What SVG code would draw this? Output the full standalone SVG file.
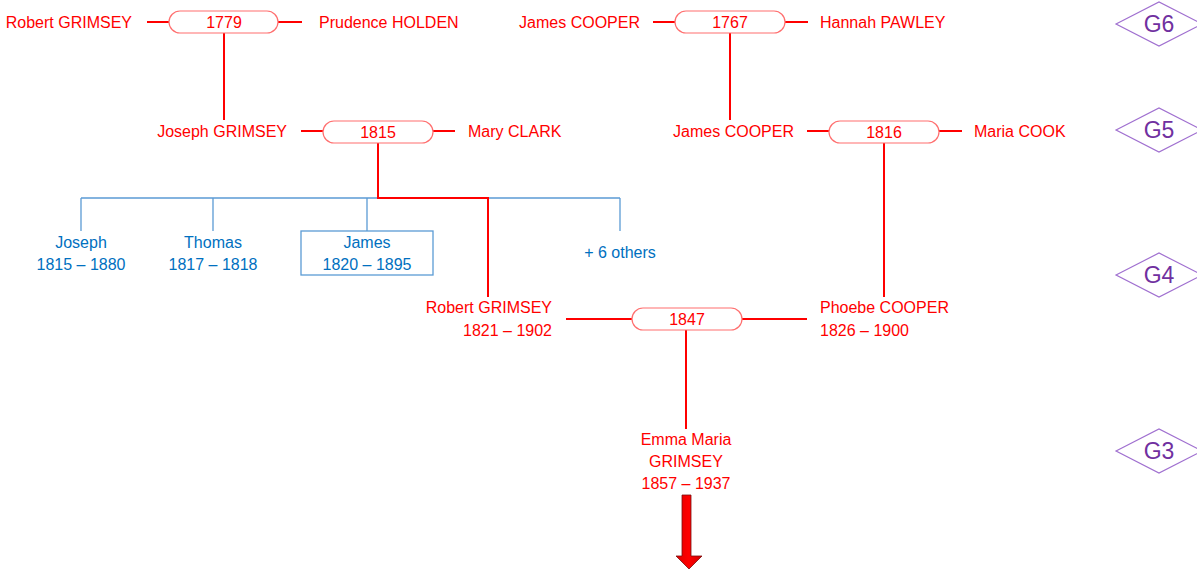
<svg xmlns="http://www.w3.org/2000/svg" width="1197" height="570" viewBox="0 0 1197 570">
<defs>
<style>
text{font-family:"Liberation Sans",Arial,sans-serif;font-size:16px}
.r{fill:#FF0000}
.b{fill:#0070C0}
.g{fill:#7030A0;font-size:23px;text-anchor:middle}
.e{text-anchor:end}
.m{text-anchor:middle}
.pill{fill:#fff;stroke:#FF6F6F;stroke-width:1.2}
.rl{stroke:#FF0000;stroke-width:2;fill:none}
.bl{stroke:#5B9BD5;stroke-width:1.3;fill:none}
.dia{fill:#fff;stroke:#A070D0;stroke-width:1.2}
</style>
<linearGradient id="ag" x1="0" x2="1" y1="0" y2="0">
<stop offset="0" stop-color="#E00000"/>
<stop offset="0.5" stop-color="#FF0000"/>
<stop offset="1" stop-color="#D00000"/>
</linearGradient>
</defs>
<rect width="1197" height="570" fill="#fff"/>
<g id="connectors">
<path class="rl" d="M147 22H169M278 22H302M224 33V120"/>
<path class="rl" d="M653 22H675M785 22H808M730 33V120"/>
<path class="rl" d="M301 131H323M433 131H455"/>
<path class="rl" d="M807 131H829M939 131H962M884 143V297"/>
<path class="bl" d="M81 198H620M81 198V231M213 198V231M367 198V231M620 198V231"/>
<path class="rl" d="M378 143V198H488V297"/>
<path class="rl" d="M566 319H632M742 319H807M686 330V429"/>
</g>
<g id="m1779"><rect class="pill" x="169" y="11" width="109" height="22" rx="11"/><text class="r m" x="224" y="28">1779</text></g>
<g id="m1767"><rect class="pill" x="675" y="11" width="110" height="22" rx="11"/><text class="r m" x="730" y="28">1767</text></g>
<g id="m1815"><rect class="pill" x="323" y="121" width="110" height="22" rx="11"/><text class="r m" x="378" y="138">1815</text></g>
<g id="m1816"><rect class="pill" x="829" y="121" width="110" height="22" rx="11"/><text class="r m" x="884" y="138">1816</text></g>
<g id="m1847"><rect class="pill" x="632" y="308" width="110" height="22" rx="11"/><text class="r m" x="687" y="325">1847</text></g>
<g id="robertG6"><text class="r e" x="132" y="28">Robert GRIMSEY</text></g>
<g id="prudence"><text class="r" x="319" y="28">Prudence HOLDEN</text></g>
<g id="jamesG6"><text class="r e" x="640" y="28">James COOPER</text></g>
<g id="hannah"><text class="r" x="820" y="28">Hannah PAWLEY</text></g>
<g id="josephG5"><text class="r e" x="287" y="137">Joseph GRIMSEY</text></g>
<g id="mary"><text class="r" x="468" y="137">Mary CLARK</text></g>
<g id="jamesG5"><text class="r e" x="794" y="137">James COOPER</text></g>
<g id="maria"><text class="r" x="974" y="137">Maria COOK</text></g>
<g id="joseph"><text class="b m" x="81" y="248">Joseph</text><text class="b m" x="81" y="270">1815 – 1880</text></g>
<g id="thomas"><text class="b m" x="213" y="248">Thomas</text><text class="b m" x="213" y="270">1817 – 1818</text></g>
<g id="james"><rect x="301" y="231" width="132" height="44" fill="#fff" stroke="#5B9BD5" stroke-width="1.3"/><text class="b m" x="367" y="248">James</text><text class="b m" x="367" y="270">1820 – 1895</text></g>
<g id="others"><text class="b m" x="620" y="258">+ 6 others</text></g>
<g id="robertG4"><text class="r e" x="552" y="313">Robert GRIMSEY</text><text class="r e" x="552" y="336">1821 – 1902</text></g>
<g id="phoebe"><text class="r" x="820" y="313">Phoebe COOPER</text><text class="r" x="820" y="336">1826 – 1900</text></g>
<g id="emma"><text class="r m" x="686" y="445">Emma Maria</text><text class="r m" x="686" y="467">GRIMSEY</text><text class="r m" x="686" y="489">1857 – 1937</text></g>
<g id="arrow"><path d="M682 495H691V556H702L689 569L676 556H682Z" fill="url(#ag)" stroke="#7A1010" stroke-width="0.8"/></g>
<g id="G6"><polygon class="dia" points="1116,24 1159,2 1202,24 1159,46"/><text class="g" x="1159" y="32">G6</text></g>
<g id="G5"><polygon class="dia" points="1116,130 1159,108 1202,130 1159,152"/><text class="g" x="1159" y="138">G5</text></g>
<g id="G4"><polygon class="dia" points="1116,275 1159,253 1202,275 1159,297"/><text class="g" x="1159" y="283">G4</text></g>
<g id="G3"><polygon class="dia" points="1116,451 1159,429 1202,451 1159,473"/><text class="g" x="1159" y="459">G3</text></g>
</svg>
